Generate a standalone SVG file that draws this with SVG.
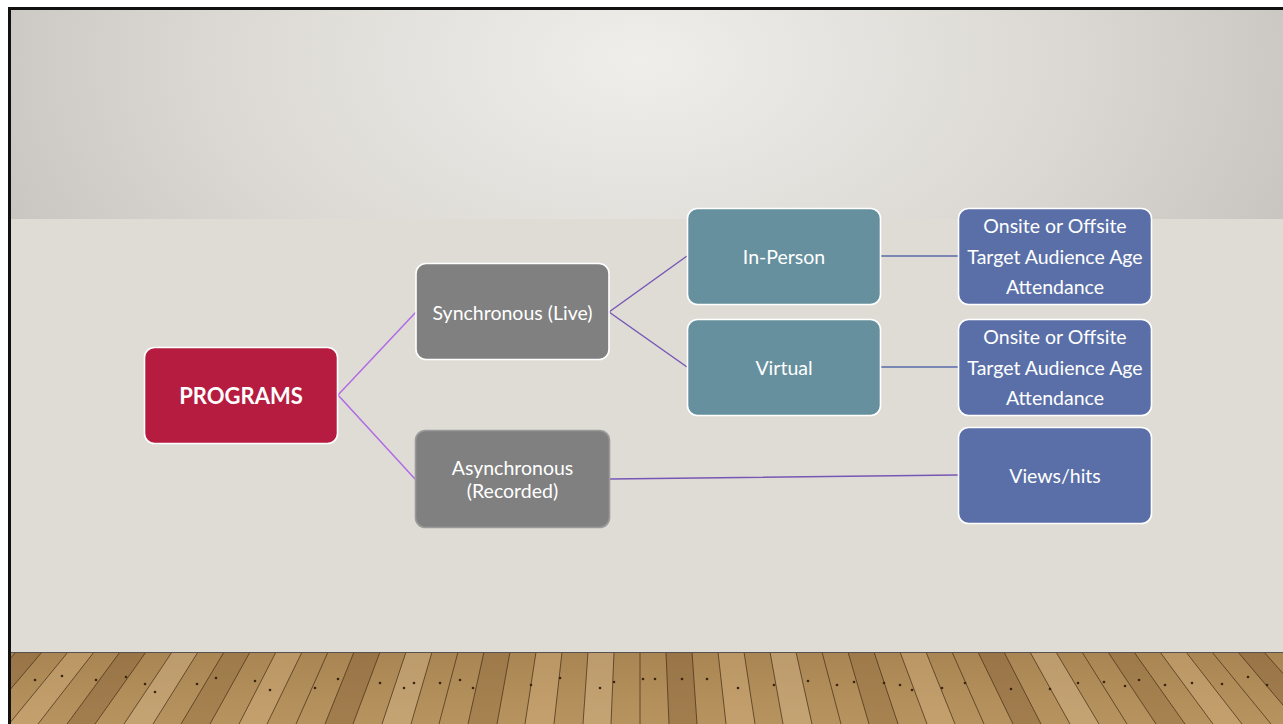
<svg xmlns="http://www.w3.org/2000/svg" width="1283" height="724" viewBox="0 0 1283 724">
<defs>
<radialGradient id="wall" cx="640" cy="60" r="700" gradientUnits="userSpaceOnUse" gradientTransform="translate(640 60) scale(1 0.6) translate(-640 -60)">
<stop offset="0" stop-color="#efeeea"/>
<stop offset="0.6" stop-color="#dcd9d4"/>
<stop offset="1" stop-color="#c8c4bf"/>
</radialGradient>
<linearGradient id="wood" x1="0" y1="652" x2="0" y2="724" gradientUnits="userSpaceOnUse">
<stop offset="0" stop-color="#a98553"/>
<stop offset="1" stop-color="#b7945f"/>
</linearGradient>
<clipPath id="floorclip"><rect x="11" y="652" width="1272" height="72"/></clipPath>
</defs>
<style>
.box{stroke:#ffffff;stroke-width:1.6}
.t{font-family:Lato,"Open Sans","Liberation Sans",sans-serif;fill:#ffffff;text-anchor:middle;dominant-baseline:central}
.c{fill:none;stroke-width:1.5}
.plank{stroke:#4a3218;stroke-width:1;stroke-opacity:0.75}
</style>
<rect x="0" y="0" width="1283" height="724" fill="#ffffff"/>
<rect x="8" y="7" width="1275" height="717" fill="#111111"/>
<rect x="11" y="10" width="1272" height="209" fill="url(#wall)"/>
<rect x="11" y="219" width="1272" height="433" fill="#dfdcd6"/>
<g id="floor" clip-path="url(#floorclip)">
<rect x="11" y="652" width="1272" height="72" fill="url(#wood)"/>
<g fill-opacity="0.35">
<polygon points="16,652 42,652 -19,724 -48,724" fill="#7a5630"/>
<polygon points="68,652 94,652 38,724 9,724" fill="#d9b888"/>
<polygon points="120,652 146,652 95,724 67,724" fill="#7a5630"/>
<polygon points="172,652 198,652 153,724 124,724" fill="#e0c29a"/>
<polygon points="224,652 250,652 210,724 181,724" fill="#8a6438"/>
<polygon points="276,652 302,652 267,724 239,724" fill="#d9b888"/>
<polygon points="354,652 380,652 353,724 325,724" fill="#7a5630"/>
<polygon points="406,652 432,652 411,724 382,724" fill="#e0c29a"/>
<polygon points="484,652 510,652 497,724 468,724" fill="#8a6438"/>
<polygon points="536,652 562,652 554,724 525,724" fill="#d9b888"/>
<polygon points="588,652 614,652 611,724 583,724" fill="#e0c29a"/>
<polygon points="666,652 692,652 697,724 669,724" fill="#7a5630"/>
<polygon points="718,652 744,652 755,724 726,724" fill="#d9b888"/>
<polygon points="770,652 796,652 812,724 783,724" fill="#e0c29a"/>
<polygon points="848,652 874,652 898,724 869,724" fill="#8a6438"/>
<polygon points="900,652 926,652 955,724 927,724" fill="#d9b888"/>
<polygon points="978,652 1004,652 1041,724 1013,724" fill="#7a5630"/>
<polygon points="1030,652 1056,652 1099,724 1070,724" fill="#e0c29a"/>
<polygon points="1108,652 1134,652 1185,724 1156,724" fill="#8a6438"/>
<polygon points="1160,652 1186,652 1242,724 1213,724" fill="#d9b888"/>
<polygon points="1238,652 1264,652 1328,724 1299,724" fill="#7a5630"/>
</g>
<path class="plank" d="M16 652L-48 724M42 652L-19 724M68 652L9 724M94 652L38 724M120 652L67 724M146 652L95 724M172 652L124 724M198 652L153 724M224 652L181 724M250 652L210 724M276 652L239 724M302 652L267 724M328 652L296 724M354 652L325 724M380 652L353 724M406 652L382 724M432 652L411 724M458 652L439 724M484 652L468 724M510 652L497 724M536 652L525 724M562 652L554 724M588 652L583 724M614 652L611 724M640 652L640 724M666 652L669 724M692 652L697 724M718 652L726 724M744 652L755 724M770 652L783 724M796 652L812 724M822 652L841 724M848 652L869 724M874 652L898 724M900 652L927 724M926 652L955 724M952 652L984 724M978 652L1013 724M1004 652L1041 724M1030 652L1070 724M1056 652L1099 724M1082 652L1127 724M1108 652L1156 724M1134 652L1185 724M1160 652L1213 724M1186 652L1242 724M1212 652L1271 724M1238 652L1299 724M1264 652L1328 724"/>
<g fill="#3a2510">
<circle cx="35" cy="680" r="1.3"/><circle cx="62" cy="676" r="1.3"/><circle cx="96" cy="680" r="1.3"/><circle cx="126" cy="677" r="1.3"/><circle cx="145" cy="684" r="1.3"/><circle cx="155" cy="692" r="1.3"/><circle cx="197" cy="684" r="1.3"/><circle cx="216" cy="678" r="1.3"/><circle cx="255" cy="681" r="1.3"/><circle cx="270" cy="690" r="1.3"/><circle cx="315" cy="688" r="1.3"/><circle cx="338" cy="679" r="1.3"/><circle cx="380" cy="683" r="1.3"/><circle cx="404" cy="688" r="1.3"/><circle cx="414" cy="683" r="1.3"/><circle cx="440" cy="683" r="1.3"/><circle cx="460" cy="680" r="1.3"/><circle cx="473" cy="688" r="1.3"/><circle cx="531" cy="685" r="1.3"/><circle cx="560" cy="678" r="1.3"/><circle cx="600" cy="688" r="1.3"/><circle cx="614" cy="682" r="1.3"/><circle cx="643" cy="679" r="1.3"/><circle cx="655" cy="679" r="1.3"/><circle cx="682" cy="679" r="1.3"/><circle cx="707" cy="679" r="1.3"/><circle cx="738" cy="688" r="1.3"/><circle cx="774" cy="685" r="1.3"/><circle cx="808" cy="681" r="1.3"/><circle cx="837" cy="685" r="1.3"/><circle cx="854" cy="682" r="1.3"/><circle cx="884" cy="683" r="1.3"/><circle cx="900" cy="685" r="1.3"/><circle cx="912" cy="690" r="1.3"/><circle cx="942" cy="688" r="1.3"/><circle cx="965" cy="683" r="1.3"/><circle cx="1011" cy="689" r="1.3"/><circle cx="1050" cy="689" r="1.3"/><circle cx="1078" cy="683" r="1.3"/><circle cx="1104" cy="682" r="1.3"/><circle cx="1125" cy="686" r="1.3"/><circle cx="1139" cy="680" r="1.3"/><circle cx="1165" cy="685" r="1.3"/><circle cx="1192" cy="683" r="1.3"/><circle cx="1222" cy="684" r="1.3"/><circle cx="1248" cy="677" r="1.3"/><circle cx="1267" cy="685" r="1.3"/>
</g>
<rect x="11" y="651" width="1272" height="2" fill="#555350"/>
</g>
<g id="connectors">
<path class="c" stroke="#b06be6" d="M338 395L416 312M338 395L415 479"/>
<path class="c" stroke="#7757b5" d="M609 312L687 256M609 312L687 367M610 479L958 475"/>
<path class="c" stroke="#5a6aa8" d="M880 256L958 256M880 367L958 367"/>
</g>
<g id="programs">
<rect class="box" x="144.5" y="347.5" width="193" height="96" rx="10" fill="#b61c40"/>
<text class="t" x="241" y="395" font-size="22" font-weight="bold">PROGRAMS</text>
</g>
<g id="synchronous">
<rect class="box" x="416" y="263.5" width="193" height="96" rx="10" fill="#808080"/>
<text class="t" x="512.5" y="312" font-size="19.5">Synchronous (Live)</text>
</g>
<g id="asynchronous">
<rect x="415.5" y="430.5" width="194" height="97" rx="10" fill="#808080" stroke="#9a9a9a" stroke-width="1.6"/>
<text class="t" x="512.5" y="467" font-size="19.5">Asynchronous</text>
<text class="t" x="512.5" y="490" font-size="19.5">(Recorded)</text>
</g>
<g id="in-person">
<rect class="box" x="687.5" y="208.5" width="193" height="96" rx="10" fill="#66909e"/>
<text class="t" x="784" y="256" font-size="19.5">In-Person</text>
</g>
<g id="virtual">
<rect class="box" x="687.5" y="319.5" width="193" height="96" rx="10" fill="#66909e"/>
<text class="t" x="784" y="367" font-size="19.5">Virtual</text>
</g>
<g id="details-in-person">
<rect class="box" x="958.5" y="208.5" width="193" height="96" rx="10" fill="#5a6fa8"/>
<text class="t" x="1055" y="225" font-size="19.5">Onsite or Offsite</text>
<text class="t" x="1055" y="256" font-size="19.5">Target Audience Age</text>
<text class="t" x="1055" y="286" font-size="19.5">Attendance</text>
</g>
<g id="details-virtual">
<rect class="box" x="958.5" y="319.5" width="193" height="96" rx="10" fill="#5a6fa8"/>
<text class="t" x="1055" y="336" font-size="19.5">Onsite or Offsite</text>
<text class="t" x="1055" y="367" font-size="19.5">Target Audience Age</text>
<text class="t" x="1055" y="397" font-size="19.5">Attendance</text>
</g>
<g id="views-hits">
<rect class="box" x="958.5" y="427.5" width="193" height="96" rx="10" fill="#5a6fa8"/>
<text class="t" x="1055" y="475" font-size="19.5">Views/hits</text>
</g>
</svg>
